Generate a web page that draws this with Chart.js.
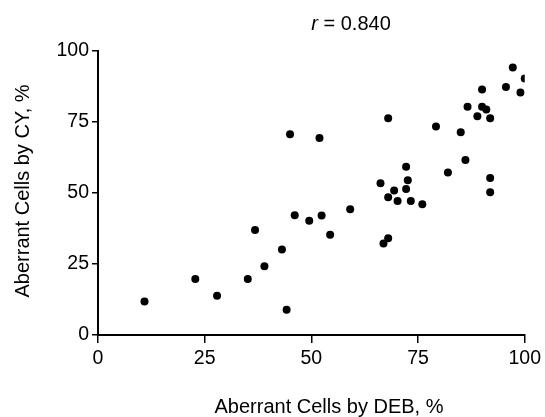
<!DOCTYPE html>
<html>
<head>
<meta charset="utf-8">
<script src="https://cdn.jsdelivr.net/npm/chart.js@4.4.1/dist/chart.umd.min.js"></script>
<style>
  html, body { margin: 0; padding: 0; background: #fff; }
  #wrap { width: 545px; height: 417px; position: relative; }
</style>
</head>
<body>
<div id="wrap"><canvas id="c" width="545" height="417"></canvas></div>
<script>
// ---- data ----
const debPercent = [10.9, 22.8, 27.9, 35.1, 36.8, 39.0, 43.1, 44.2, 45.0, 46.1,
                    49.5, 51.9, 52.4, 54.4, 59.1, 66.2, 66.9, 68.0, 68.0, 68.0,
                    69.4, 70.2, 72.2, 72.2, 72.6, 73.3, 76.0, 79.2, 82.0, 85.0,
                    86.1, 86.6, 88.9, 90.0, 90.0, 91.0, 91.9, 91.9, 91.9, 95.6,
                    97.2, 99.0, 100.0];
const cyPercent  = [11.8, 19.7, 13.8, 19.7, 37.0, 24.2, 30.1, 8.9, 70.7, 42.2,
                    40.2, 69.4, 42.1, 35.3, 44.3, 53.4, 32.2, 34.1, 76.3, 48.5,
                    50.9, 47.2, 59.2, 51.4, 54.5, 47.2, 46.0, 73.4, 57.2, 71.4,
                    61.6, 80.4, 77.0, 86.4, 80.4, 79.4, 76.3, 55.3, 50.3, 87.3,
                    94.2, 85.4, 90.3];
const xTickValues = [0, 25, 50, 75, 100];
const yTickValues = [0, 25, 50, 75, 100];
const titleVar = "r";
const titleRest = " = 0.840";
const xAxisTitle = "Aberrant Cells by DEB, %";
const yAxisTitle = "Aberrant Cells by CY, %";

const points = debPercent.map((x, i) => ({ x: x, y: cyPercent[i] }));
const FONT = '"Liberation Sans", Arial, Helvetica, sans-serif';

const textPlugin = {
  id: 'textPlugin',
  afterDraw(chart) {
    const ctx = chart.ctx;
    ctx.save();
    ctx.fillStyle = '#000';
    // title with italic r
    ctx.textBaseline = 'alphabetic';
    ctx.textAlign = 'left';
    ctx.font = 'italic 20px ' + FONT;
    const rW = ctx.measureText(titleVar).width;
    ctx.font = '20px ' + FONT;
    const restW = ctx.measureText(titleRest).width;
    const tx = 351 - (rW + restW) / 2;
    ctx.font = 'italic 20px ' + FONT;
    ctx.fillText(titleVar, tx, 30);
    ctx.font = '20px ' + FONT;
    ctx.fillText(titleRest, tx + rW, 30);
    // x axis title
    ctx.textAlign = 'center';
    ctx.fillText(xAxisTitle, 329, 413);
    // y axis title
    ctx.translate(29, 191);
    ctx.rotate(-Math.PI / 2);
    ctx.fillText(yAxisTitle, 0, 0);
    ctx.restore();
  }
};

new Chart(document.getElementById('c'), {
  type: 'scatter',
  data: {
    datasets: [{
      data: points,
      backgroundColor: '#000',
      borderColor: '#000',
      borderWidth: 0,
      pointRadius: 4,
      pointHoverRadius: 4
    }]
  },
  options: {
    responsive: false,
    animation: false,
    events: [],
    layout: { padding: { top: 51, right: 14, left: 0, bottom: 0 } },
    plugins: { legend: { display: false }, tooltip: { enabled: false }, title: { display: false } },
    scales: {
      x: {
        type: 'linear', min: 0, max: 100,
        afterBuildTicks: (s) => { s.ticks = xTickValues.map(v => ({ value: v })); },
        afterFit: (s) => { s.height = 82; },
        grid: { display: true, drawOnChartArea: false, drawTicks: true, tickLength: 8, color: '#000', lineWidth: 1.5 },
        border: { display: true, color: '#000', width: 2 },
        ticks: { color: '#000', font: { family: FONT, size: 19.5 }, padding: 4, maxRotation: 0 }
      },
      y: {
        type: 'linear', min: 0, max: 100,
        afterBuildTicks: (s) => { s.ticks = yTickValues.map(v => ({ value: v })); },
        afterFit: (s) => { s.width = 98; },
        grid: { display: true, drawOnChartArea: false, drawTicks: true, tickLength: 6, color: '#000', lineWidth: 1.5 },
        border: { display: true, color: '#000', width: 2 },
        ticks: { color: '#000', font: { family: FONT, size: 19.5 }, padding: 3 }
      }
    }
  },
  plugins: [textPlugin]
});
</script>
</body>
</html>
